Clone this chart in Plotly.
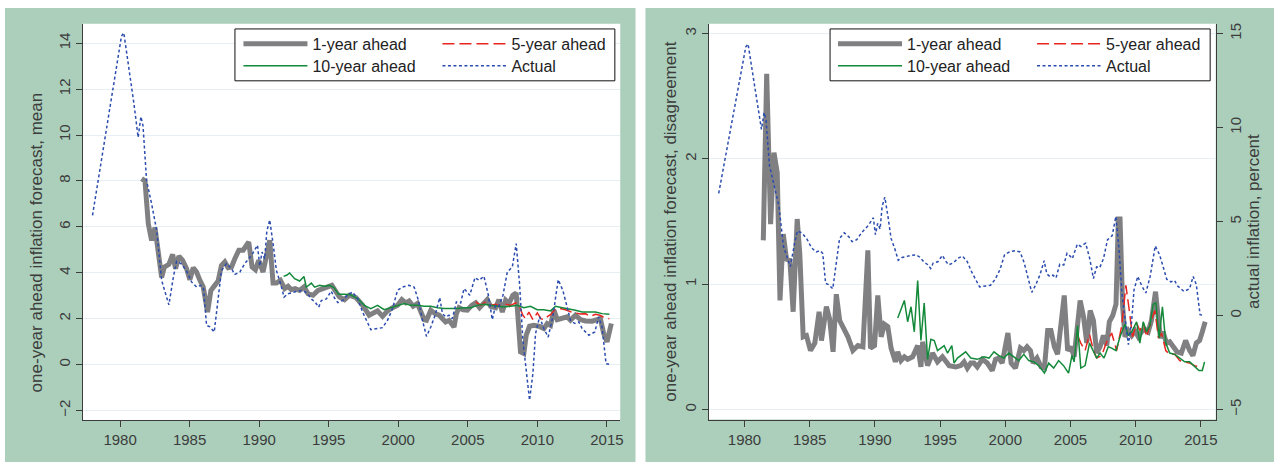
import plotly.graph_objects as go

# ---------------- data ----------------
# Actual inflation, percent (shared by both panels)
act_yr = [1978.02, 1980.1, 1980.27, 1980.7, 1981.0, 1981.3, 1981.5, 1981.65, 1981.91, 1982.27, 1982.63, 1982.99,
          1983.51, 1983.83, 1984.06, 1984.42, 1984.78, 1985.14, 1985.5, 1985.81, 1986.0, 1986.22, 1986.46, 1986.77,
          1987.05, 1987.29, 1987.65, 1988.01, 1988.25, 1988.61, 1988.97, 1989.21, 1989.5, 1989.88, 1990.04, 1990.21,
          1990.4, 1990.55, 1990.76, 1991.0, 1991.24, 1991.55, 1991.79, 1992.08, 1992.43, 1992.79, 1993.15, 1993.45,
          1993.75, 1994.05, 1994.28, 1994.47, 1994.83, 1995.18, 1995.42, 1995.66, 1996.02, 1996.38, 1996.72, 1997.08,
          1997.44, 1997.8, 1998.03, 1998.51, 1998.87, 1999.23, 1999.59, 1999.95, 2000.31, 2000.74, 2001.14, 2001.45,
          2001.74, 2002.03, 2002.34, 2002.65, 2002.98, 2003.18, 2003.41, 2003.65, 2003.89, 2004.18, 2004.49, 2004.73,
          2004.97, 2005.14, 2005.52, 2005.81, 2006.16, 2006.48, 2006.76, 2007.0, 2007.24, 2007.53, 2007.84, 2008.2,
          2008.48, 2008.72, 2008.96, 2009.15, 2009.44, 2009.68, 2009.87, 2010.16, 2010.47, 2010.78, 2011.11, 2011.5,
          2011.83, 2012.14, 2012.38, 2012.69, 2012.98, 2013.22, 2013.7, 2014.13, 2014.41, 2014.65, 2014.94, 2015.18]
act_val = [6.5, 14.3, 14.45, 12.65, 11.35, 9.9, 10.8, 10.4, 8.0, 7.0, 5.85, 3.67,
           2.6, 3.8, 4.5, 4.38, 4.08, 3.6, 3.38, 3.45, 3.3, 1.71, 1.64, 1.42,
           2.8, 4.1, 4.4, 4.18, 3.93, 4.03, 4.4, 4.6, 4.8, 5.2, 4.3, 4.9,
           4.6, 5.8, 6.3, 5.27, 4.1, 3.5, 2.94, 3.09, 3.16, 3.2, 3.23, 3.1,
           2.86, 2.7, 2.5, 2.79, 2.86, 3.2, 2.9, 2.7, 2.8, 3.05, 3.16, 2.87,
           2.29, 1.79, 1.52, 1.57, 1.61, 1.93, 2.44, 3.24, 3.38, 3.45, 3.38, 2.8,
           1.93, 1.23, 1.64, 2.15, 2.92, 2.22, 2.08, 2.15, 2.0, 2.73, 2.69, 3.31,
           3.16, 3.02, 3.79, 3.67, 3.85, 3.02, 1.96, 2.58, 2.54, 3.02, 4.03, 4.25,
           5.27, 3.53, 1.06, -0.1, -1.55, -0.39, 1.35, 2.08, 1.57, 1.2, 2.08, 3.7,
           3.24, 2.51, 1.93, 1.79, 1.86, 1.57, 1.28, 1.42, 2.08, 1.64, 0.04, 0.01]

# Mean forecasts (left panel)
m1_yr = [1981.55, 1981.79, 1982.03, 1982.27, 1982.51, 1982.8, 1982.99, 1983.18, 1983.51, 1983.78, 1983.99, 1984.23,
         1984.5, 1984.78, 1985.02, 1985.26, 1985.5, 1985.74, 1985.98, 1986.29, 1986.53, 1986.81, 1987.05, 1987.29,
         1987.53, 1987.77, 1988.01, 1988.25, 1988.54, 1988.85, 1989.25, 1989.49, 1989.73, 1989.97, 1990.28, 1990.76,
         1991.0, 1991.24, 1991.53, 1991.84, 1992.08, 1992.31, 1992.6, 1992.91, 1993.22, 1993.51, 1993.87, 1994.23,
         1994.59, 1994.95, 1995.23, 1995.54, 1995.78, 1996.14, 1996.48, 1996.96, 1997.44, 1997.91, 1998.15, 1998.51,
         1998.87, 1999.23, 1999.59, 1999.95, 2000.26, 2000.55, 2000.78, 2001.07, 2001.38, 2001.86, 2002.03, 2002.34,
         2002.65, 2002.94, 2003.18, 2003.41, 2003.65, 2004.01, 2004.18, 2004.37, 2004.66, 2004.97, 2005.28, 2005.57,
         2005.85, 2006.16, 2006.4, 2006.64, 2007.0, 2007.24, 2007.48, 2007.72, 2007.96, 2008.24, 2008.48, 2008.79,
         2009.03, 2009.2, 2009.44, 2009.75, 2010.11, 2010.47, 2010.71, 2010.95, 2011.19, 2011.43, 2011.79, 2012.14,
         2012.38, 2012.74, 2013.1, 2013.46, 2013.94, 2014.3, 2014.53, 2014.77, 2015.01, 2015.32]
m1_val = [8.1, 8.0, 6.14, 5.41, 5.97, 4.83, 3.8, 4.25, 4.37, 4.8, 4.18, 4.72,
          4.54, 4.18, 3.7, 4.22, 4.03, 3.67, 3.38, 2.29, 3.23, 3.45, 3.64, 4.32,
          4.47, 4.22, 4.25, 4.61, 4.98, 4.98, 5.34, 4.25, 4.13, 4.54, 4.03, 5.42,
          3.55, 3.55, 3.67, 3.31, 3.41, 3.26, 3.31, 3.23, 3.38, 3.09, 3.02, 3.23,
          3.31, 3.35, 3.45, 3.16, 2.94, 2.83, 3.02, 2.92, 2.58, 2.15, 2.22, 2.34,
          2.1, 2.34, 2.48, 2.58, 2.83, 2.69, 2.77, 2.54, 2.66, 1.96, 1.93, 2.37,
          2.22, 2.15, 2.0, 1.86, 1.93, 1.64, 2.22, 2.48, 2.39, 2.37, 2.58, 2.69,
          2.48, 2.66, 2.83, 2.54, 2.48, 2.83, 2.29, 2.8, 2.66, 3.02, 3.12, 0.55,
          0.48, 1.28, 1.67, 1.71, 1.67, 1.57, 1.79, 1.71, 2.37, 1.96, 2.05, 2.08,
          1.93, 2.15, 1.96, 1.9, 1.89, 1.93, 2.0, 1.35, 0.99, 1.79]

m5_yr = [2005.57, 2005.93, 2006.28, 2006.64, 2007.0, 2007.36, 2007.72, 2008.08, 2008.44, 2008.68, 2008.96, 2009.15,
         2009.39, 2009.68, 2010.0, 2010.25, 2010.5, 2010.75, 2011.0, 2011.31, 2011.6, 2012.02, 2012.4, 2012.74,
         2013.1, 2013.46, 2013.8, 2014.18, 2014.5, 2014.8, 2015.18]
m5_val = [2.73, 2.58, 2.73, 2.58, 2.63, 2.54, 2.63, 2.58, 2.69, 2.58, 2.15, 2.0,
          2.29, 1.96, 2.25, 2.0, 1.95, 2.1, 2.2, 2.44, 2.45, 2.39, 2.3, 2.25,
          2.2, 2.22, 2.1, 2.19, 2.15, 2.05, 2.0]

m10_yr = [1991.76, 1992.0, 1992.19, 1992.55, 1992.91, 1993.22, 1993.39, 1993.75, 1993.99, 1994.35, 1994.71, 1995.06,
          1995.38, 1995.71, 1996.14, 1996.57, 1997.08, 1997.56, 1998.03, 1998.51, 1998.99, 1999.47, 1999.95, 2000.43,
          2000.9, 2001.38, 2001.86, 2002.34, 2002.82, 2003.3, 2003.77, 2004.25, 2004.73, 2005.21, 2005.69, 2006.16,
          2006.64, 2007.12, 2007.6, 2008.08, 2008.56, 2009.03, 2009.51, 2009.99, 2010.47, 2010.95, 2011.31, 2011.79,
          2012.26, 2012.74, 2013.22, 2013.7, 2014.18, 2014.65, 2015.18]
m10_val = [3.84, 3.9, 3.99, 3.74, 3.64, 3.84, 3.37, 3.55, 3.37, 3.45, 3.41, 3.45,
           3.35, 3.06, 3.06, 3.04, 2.87, 2.58, 2.44, 2.58, 2.39, 2.48, 2.54, 2.66,
           2.58, 2.58, 2.54, 2.54, 2.48, 2.44, 2.44, 2.44, 2.48, 2.48, 2.58, 2.63,
           2.58, 2.54, 2.51, 2.54, 2.58, 2.48, 2.54, 2.39, 2.39, 2.34, 2.54, 2.48,
           2.44, 2.37, 2.29, 2.29, 2.29, 2.22, 2.19]

# Disagreement (right panel)
d1_yr = [1981.44, 1981.7, 1982.0, 1982.26, 1982.51, 1982.72, 1982.97, 1983.22, 1983.48, 1983.73, 1984.04, 1984.24,
         1984.5, 1984.75, 1985.06, 1985.39, 1985.72, 1985.9, 1986.28, 1986.53, 1986.79, 1987.04, 1987.3, 1987.55,
         1987.93, 1988.31, 1988.7, 1989.08, 1989.46, 1989.66, 1989.97, 1990.22, 1990.48, 1990.73, 1990.99, 1991.24,
         1991.57, 1991.75, 1992.0, 1992.26, 1992.51, 1992.89, 1993.28, 1993.53, 1993.66, 1994.04, 1994.42, 1994.8,
         1995.18, 1995.69, 1996.2, 1996.58, 1996.84, 1997.09, 1997.35, 1997.6, 1997.85, 1998.24, 1998.62, 1999.0,
         1999.25, 1999.51, 1999.76, 2000.2, 2000.45, 2000.78, 2001.16, 2001.42, 2001.67, 2001.93, 2002.13, 2002.43,
         2002.74, 2003.0, 2003.25, 2003.5, 2003.76, 2004.01, 2004.27, 2004.52, 2004.78, 2005.03, 2005.28, 2005.5,
         2005.74, 2006.0, 2006.25, 2006.51, 2006.76, 2007.01, 2007.27, 2007.52, 2007.78, 2007.98, 2008.24, 2008.49,
         2008.67, 2008.8, 2009.0, 2009.18, 2009.43, 2009.69, 2009.94, 2010.2, 2010.45, 2010.7, 2010.96, 2011.21,
         2011.52, 2011.72, 2011.9, 2012.1, 2012.36, 2012.61, 2012.87, 2013.17, 2013.5, 2013.83, 2014.14, 2014.39,
         2014.65, 2014.9, 2015.11, 2015.33]
d1_val = [1.35, 2.68, 1.48, 2.05, 1.89, 0.87, 1.4, 1.2, 1.19, 0.78, 1.52, 1.24,
          0.58, 0.59, 0.47, 0.53, 0.78, 0.55, 0.82, 0.72, 0.46, 0.92, 0.71, 0.66,
          0.58, 0.47, 0.51, 0.5, 1.27, 0.49, 0.51, 0.91, 0.58, 0.68, 0.66, 0.49,
          0.38, 0.46, 0.39, 0.42, 0.4, 0.42, 0.51, 0.34, 0.54, 0.35, 0.45, 0.38,
          0.42, 0.35, 0.34, 0.35, 0.38, 0.33, 0.37, 0.37, 0.34, 0.4, 0.37, 0.31,
          0.4, 0.41, 0.37, 0.61, 0.37, 0.33, 0.49, 0.47, 0.5, 0.47, 0.37, 0.41,
          0.34, 0.33, 0.63, 0.63, 0.5, 0.44, 0.68, 0.91, 0.47, 0.5, 0.42, 0.6,
          0.87, 0.74, 0.53, 0.79, 0.71, 0.45, 0.5, 0.59, 0.51, 0.7, 0.75, 0.84,
          1.52, 1.52, 0.82, 0.58, 0.63, 0.59, 0.63, 0.58, 0.62, 0.64, 0.62, 0.71,
          0.94, 0.74, 0.57, 0.62, 0.53, 0.54, 0.5, 0.46, 0.45, 0.55, 0.47, 0.43,
          0.53, 0.55, 0.62, 0.7]

d5_yr = [2005.54, 2005.79, 2006.12, 2006.46, 2006.76, 2007.01, 2007.39, 2007.78, 2008.16, 2008.54, 2008.92, 2009.25,
         2009.51, 2009.76, 2010.07, 2010.32, 2010.58, 2010.83, 2011.14, 2011.47, 2011.75, 2011.98, 2012.31, 2012.61,
         2013.0, 2013.38, 2013.76, 2014.14, 2014.52, 2014.85, 2015.11]
d5_val = [0.59, 0.53, 0.47, 0.6, 0.47, 0.41, 0.43, 0.54, 0.61, 0.47, 0.66, 0.99,
          0.79, 0.58, 0.69, 0.63, 0.69, 0.58, 0.69, 0.79, 0.57, 0.61, 0.47, 0.44,
          0.44, 0.39, 0.38, 0.37, 0.35, 0.34, 0.33]

d10_yr = [1991.75, 1992.26, 1992.51, 1992.77, 1993.02, 1993.28, 1993.53, 1993.78, 1994.04, 1994.29, 1994.55, 1994.8,
          1995.06, 1995.31, 1995.57, 1995.9, 1996.07, 1996.33, 1996.96, 1997.35, 1997.85, 1998.36, 1998.75, 1999.13,
          1999.51, 1999.89, 2000.27, 2000.65, 2001.03, 2001.42, 2001.8, 2002.18, 2002.56, 2003.0, 2003.33, 2003.71,
          2004.09, 2004.47, 2004.85, 2005.11, 2005.28, 2005.54, 2005.79, 2006.12, 2006.46, 2007.01, 2007.27, 2007.57,
          2007.9, 2008.16, 2008.49, 2008.8, 2009.18, 2009.43, 2009.69, 2010.07, 2010.32, 2010.58, 2010.83, 2011.09,
          2011.34, 2011.55, 2011.8, 2012.05, 2012.31, 2012.61, 2013.0, 2013.38, 2013.76, 2014.14, 2014.45, 2014.85,
          2015.11, 2015.28]
d10_val = [0.73, 0.87, 0.7, 0.82, 0.62, 1.03, 0.55, 0.85, 0.4, 0.56, 0.55, 0.47,
           0.49, 0.51, 0.45, 0.51, 0.37, 0.41, 0.46, 0.41, 0.4, 0.42, 0.41, 0.46,
           0.43, 0.41, 0.45, 0.42, 0.39, 0.44, 0.39, 0.38, 0.35, 0.29, 0.37, 0.33,
           0.39, 0.35, 0.29, 0.43, 0.38, 0.67, 0.33, 0.35, 0.53, 0.41, 0.45, 0.41,
           0.5, 0.49, 0.47, 0.58, 0.68, 0.59, 0.62, 0.7, 0.53, 0.7, 0.62, 0.67,
           0.84, 0.85, 0.57, 0.82, 0.53, 0.45, 0.44, 0.41, 0.38, 0.38, 0.35, 0.31,
           0.31, 0.38]

x_ticks = [1980, 1985, 1990, 1995, 2000, 2005, 2010, 2015]
yl_ticks = [-2, 0, 2, 4, 6, 8, 10, 12, 14]
yr_left_ticks = [0, 1, 2, 3]
yr_right_ticks = [-5, 0, 5, 10, 15]

names = ["1-year ahead", "5-year ahead", "10-year ahead", "Actual"]
titles = ["one-year ahead inflation forecast, mean",
          "one-year ahead inflation forecast, disagreement",
          "actual inflation, percent"]

# ---------------- style ----------------
W, H = 1280, 462
FONT = "Liberation Sans, Arial, sans-serif"
GRAY = "#808083"
RED = "#e8251f"
GREEN = "#13893a"
BLUE = "#2b4cae"
PANEL = "#abcfbb"
GRID = "#e6eff3"
AXC = "#3c3c3c"
TITLE_SIZE = 17


def px_x(v):
    return v / W


def px_y(v):
    return 1 - v / H


fig = go.Figure()


def add_panel(xa, ya, ya_act, s1, s5, s10, lg_row1, lg_row2):
    # draw order: thick gray first, then red, green, blue on top
    fig.add_trace(go.Scatter(x=s1[0], y=s1[1], mode="lines", name=names[0], xaxis=xa, yaxis=ya,
                             line=dict(color=GRAY, width=5), legend=lg_row1, legendrank=1))
    fig.add_trace(go.Scatter(x=s5[0], y=s5[1], mode="lines", name=names[1], xaxis=xa, yaxis=ya,
                             line=dict(color=RED, width=1.5, dash="12px,5px"), legend=lg_row1, legendrank=2))
    fig.add_trace(go.Scatter(x=s10[0], y=s10[1], mode="lines", name=names[2], xaxis=xa, yaxis=ya,
                             line=dict(color=GREEN, width=1.5), legend=lg_row2, legendrank=1))
    fig.add_trace(go.Scatter(x=act_yr, y=act_val, mode="lines", name=names[3], xaxis=xa, yaxis=ya_act,
                             line=dict(color=BLUE, width=1.5, dash="3px,2.5px"), legend=lg_row2, legendrank=2))


add_panel("x", "y", "y", (m1_yr, m1_val), (m5_yr, m5_val), (m10_yr, m10_val), "legend", "legend2")
add_panel("x2", "y2", "y3", (d1_yr, d1_val), (d5_yr, d5_val), (d10_yr, d10_val), "legend3", "legend4")

tickfont = dict(family=FONT, size=15, color=AXC)
titlefont = dict(family=FONT, size=TITLE_SIZE, color=AXC)
common_x = dict(tickvals=x_ticks, showgrid=False, zeroline=False, showline=True, linecolor=AXC, linewidth=1,
                ticks="outside", ticklen=6, tickcolor=AXC, tickfont=tickfont)
common_y = dict(showgrid=True, gridcolor=GRID, gridwidth=1, zeroline=False, showline=True, linecolor=AXC,
                linewidth=1, ticks="outside", ticklen=6, tickcolor=AXC, tickfont=tickfont, tickangle=-90)

L_x0, L_x1 = 82.7, 621.7
R_x0, R_x1 = 710.2, 1218.6
TOP, BOT_L, BOT_R = 22.7, 420.3, 419.5

fig.update_layout(
    width=W, height=H, margin=dict(l=0, r=0, t=0, b=0),
    paper_bgcolor="white", plot_bgcolor="white",
    font=dict(family=FONT, size=15, color=AXC),
    xaxis=dict(domain=[px_x(L_x0), px_x(L_x1)], range=[1977.30, 2015.96], anchor="y", **common_x),
    yaxis=dict(domain=[px_y(BOT_L), px_y(TOP)], range=[-2.43, 14.85], tickvals=yl_ticks, anchor="x", **common_y),
    xaxis2=dict(domain=[px_x(R_x0), px_x(R_x1)], range=[1977.24, 2016.14], anchor="y2", **common_x),
    yaxis2=dict(domain=[px_y(BOT_R), px_y(TOP)], range=[-0.081, 3.08], tickvals=yr_left_ticks, anchor="x2",
                title=dict(text=titles[1], font=titlefont, standoff=0), **common_y),
    yaxis3=dict(overlaying="y2", side="right", anchor="x2", range=[-5.54, 15.53], tickvals=yr_right_ticks,
                showgrid=False, zeroline=False, showline=True, linecolor=AXC, linewidth=1, ticks="outside",
                ticklen=6, tickcolor=AXC, tickfont=tickfont, tickangle=-90,
                title=dict(text=titles[2], font=titlefont, standoff=4)),
)

# left-panel y title (placed as in the reference, slightly below the plot centre)
fig.add_annotation(text=titles[0], xref="paper", yref="paper", x=px_x(37), y=px_y(242), xanchor="center",
                   yanchor="middle", textangle=-90, showarrow=False, font=titlefont)

# one horizontal legend per legend row (two rows per panel)
leg_common = dict(orientation="h", xanchor="left", yanchor="top", bgcolor="rgba(0,0,0,0)", borderwidth=0,
                  font=dict(family=FONT, size=16, color="#222222"), itemwidth=64,
                  entrywidth=120, entrywidthmode="pixels", tracegroupgap=0)
ROW1, ROW2 = 26, 48
fig.update_layout(
    legend=dict(x=px_x(239), y=px_y(ROW1), **leg_common),
    legend2=dict(x=px_x(239), y=px_y(ROW2), **leg_common),
    legend3=dict(x=px_x(835), y=px_y(ROW1), **leg_common),
    legend4=dict(x=px_x(835), y=px_y(ROW2), **leg_common),
)

shapes = []
# green panel backgrounds
for x0, x1 in [(5, 637), (647, 1277)]:
    shapes.append(dict(type="rect", xref="paper", yref="paper", x0=px_x(x0), x1=px_x(x1), y0=0, y1=px_y(7),
                       fillcolor=PANEL, line=dict(width=0), layer="below"))
# white plot regions
shapes.append(dict(type="rect", xref="paper", yref="paper", x0=px_x(L_x0), x1=px_x(L_x1), y0=px_y(BOT_L),
                   y1=px_y(TOP), fillcolor="white", line=dict(width=0), layer="below"))
shapes.append(dict(type="rect", xref="paper", yref="paper", x0=px_x(R_x0), x1=px_x(R_x1), y0=px_y(BOT_R),
                   y1=px_y(TOP), fillcolor="white", line=dict(width=0), layer="below"))
# legend frames
for x0, x1 in [(235.5, 616.3), (832, 1213)]:
    shapes.append(dict(type="rect", xref="paper", yref="paper", x0=px_x(x0), x1=px_x(x1), y0=px_y(80),
                       y1=px_y(28), fillcolor="white", line=dict(color="#111111", width=1), layer="above"))
fig.update_layout(shapes=shapes)

fig.write_html("out.html", config={"displayModeBar": False},
               post_script="document.body.style.margin='0px';")
